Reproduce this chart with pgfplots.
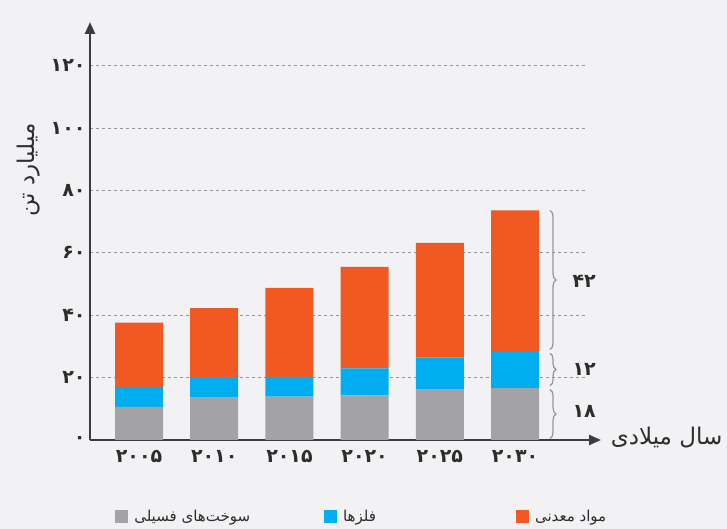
\documentclass[border=0pt]{standalone}
\usepackage{pgfplots}
\pgfplotsset{compat=1.18}
\usepackage{fontspec}
\setmainfont{DejaVu Sans}
\newfontfamily\arabicfont[Script=Arabic]{DejaVu Sans}
\TeXXeTstate=1
\usetikzlibrary{arrows.meta,decorations.pathreplacing}
\definecolor{bg}{RGB}{242,242,244}
\definecolor{orng}{RGB}{241,88,34}
\definecolor{blu}{RGB}{0,174,239}
\definecolor{gry}{RGB}{163,163,165}
\definecolor{axc}{RGB}{60,60,60}
\definecolor{txt}{RGB}{45,45,45}
\definecolor{grd}{RGB}{150,150,150}
\pgfplotsset{sqleg/.style={legend image code/.code={\fill[##1] (0pt,-6.5pt) rectangle (13pt,6.5pt);}}}
\begin{document}
\begin{tikzpicture}
\fill[bg] (0,0) rectangle (727pt,529pt);
\begin{axis}[
 at={(90pt,89pt)}, anchor=south west,
 scale only axis, width=495pt, height=418pt,
 xmin=-0.652, xmax=5.93, ymin=0, ymax=134,
 clip=false,
 axis x line=bottom, axis y line=left,
 axis line style={line width=2.4pt, draw=axc},
 x axis line style={-{Triangle[width=10pt,length=12pt]}, shorten >=-16pt},
 y axis line style={-{Triangle[width=10pt,length=12pt]}},
 ytick={0,20,...,120}, yticklabels={۰,۲۰,۴۰,۶۰,۸۰,۱۰۰,۱۲۰},
 xtick={0,...,5}, xticklabels={۲۰۰۵,۲۰۱۰,۲۰۱۵,۲۰۲۰,۲۰۲۵,۲۰۳۰},
 major tick length=0pt,
 ymajorgrids, grid style={draw=grd, line width=0.8pt, dash pattern=on 3pt off 3pt},
 tick label style={font=\arabicfont\bfseries\fontsize{19}{21}\selectfont, text=txt},
 yticklabel style={xshift=-1pt},
 xticklabel style={yshift=-7pt},
 ybar stacked, bar width=48pt,
 ylabel={\beginR میلیارد تن\endR},
 ylabel style={at={(axis description cs:-0.125,0.646)}, anchor=center, font=\arabicfont\fontsize{23}{25}\selectfont, text=txt},
 xlabel={\beginR سال میلادی\endR},
 xlabel style={at={(axis description cs:1.045,0.005)}, anchor=west, font=\arabicfont\fontsize{23}{25}\selectfont, text=txt},
 legend columns=3,
 legend style={draw=none, fill=none, at={(axis description cs:0.549,-0.184)}, anchor=center,
   font=\arabicfont\fontsize{15}{17}\selectfont, text=txt, column sep=4pt,
   /tikz/column 2/.style={column sep=72pt}, /tikz/column 4/.style={column sep=138pt}},
]
\addplot[fill=gry, draw=none, sqleg] coordinates {(0,10.6) (1,13.6) (2,13.9) (3,14.3) (4,16.3) (5,16.6)};
\addplot[fill=blu, draw=none, sqleg] coordinates {(0,6.4) (1,6.2) (2,6.3) (3,8.7) (4,10.2) (5,11.6)};
\addplot[fill=orng, draw=none, sqleg] coordinates {(0,20.6) (1,22.5) (2,28.6) (3,32.5) (4,36.7) (5,45.4)};
\legend{\beginR سوخت‌های فسیلی\endR, \beginR فلزها\endR, \beginR مواد معدنی\endR}
\draw[grd, line width=1.2pt, decorate, decoration={brace, amplitude=6pt}] (axis cs:5.465,73.6) -- (axis cs:5.465,29);
\draw[grd, line width=1.2pt, decorate, decoration={brace, amplitude=6pt}] (axis cs:5.465,27.8) -- (axis cs:5.465,17.4);
\draw[grd, line width=1.2pt, decorate, decoration={brace, amplitude=6pt}] (axis cs:5.465,16.2) -- (axis cs:5.465,0.5);
\node[font=\arabicfont\bfseries\fontsize{19}{21}\selectfont, text=txt] at (axis cs:5.92,50.8) {۴۲};
\node[font=\arabicfont\bfseries\fontsize{19}{21}\selectfont, text=txt] at (axis cs:5.92,22.5) {۱۲};
\node[font=\arabicfont\bfseries\fontsize{19}{21}\selectfont, text=txt] at (axis cs:5.92,9) {۱۸};
\end{axis}
\end{tikzpicture}
\end{document}
